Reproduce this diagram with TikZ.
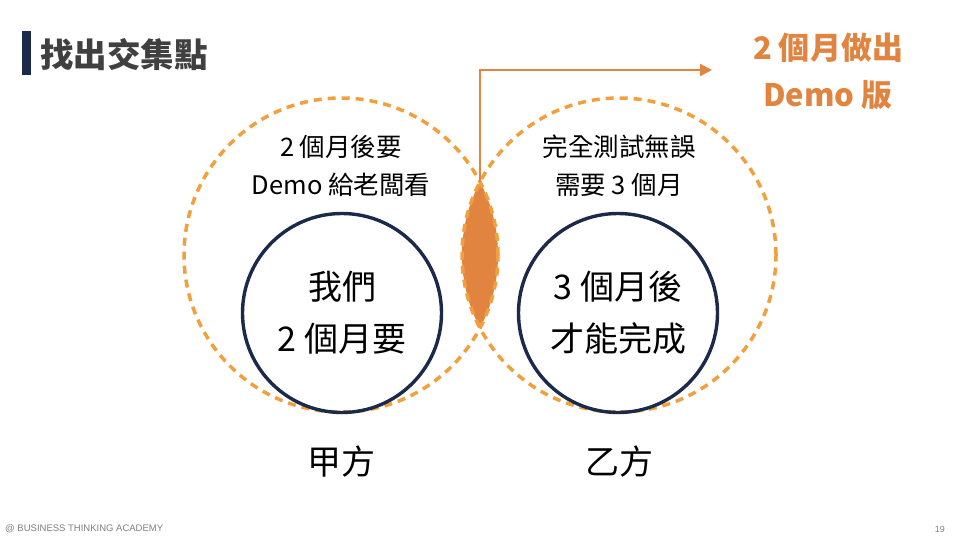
\documentclass[tikz,border=0pt]{standalone}
\usepackage{fontspec}
\setmainfont{Noto Sans CJK TC}
\newfontfamily\footfont{Liberation Sans}
\usetikzlibrary{arrows.meta}
\definecolor{navy}{HTML}{1B2A4A}
\definecolor{ringorange}{HTML}{F2A03D}
\definecolor{lensorange}{HTML}{E0843F}
\definecolor{titlegray}{HTML}{404040}

\begin{document}
\begin{tikzpicture}[x = 1pt, y = -1pt,
		ring/.style = {circle, draw = ringorange, line width = 3.5pt, dash pattern = on 8pt off 6pt, minimum size = 314pt, inner sep = 0pt},
		core/.style = {circle, draw = navy, line width = 3.4pt, minimum size = 199pt, inner sep = 0pt, align = center, font = \fontsize{34}{52}\selectfont},
		note/.style = {align = center, font = \fontsize{25.5}{38}\selectfont},
		side/.style = {font = \fontsize{34}{40}\selectfont},
		pointer/.style = {draw = lensorange, line width = 2.2pt, -{Triangle[length = 12pt, width = 12pt]}}]
	\useasboundingbox[fill = white] (0, 0) rectangle (960, 540);

	% title
	\fill[navy] (22, 31) rectangle (31, 75);
	\node (title) at (40, 55) [anchor = west, inner sep = 0pt, text = titlegray, font = \fontsize{33.5}{40}\selectfont\bfseries] {找出交集點};

	% overlap of the two rings
	\begin{scope}
		\clip (341, 255) circle [radius = 157pt];
		\fill[lensorange] (619, 255) circle [radius = 157pt];
	\end{scope}

	\foreach \name/\x in {jia/341, yi/619} {
		\node (\name) at (\x, 255) [ring] {};
	}

	\node (jiacore) at (342, 313) [core] {我們\\2 個月要};
	\node (yicore) at (618, 313) [core] {3 個月後\\才能完成};

	\node (jianote) at (341, 166) [note] {2 個月後要\\Demo 給老闆看};
	\node (yinote) at (619, 166) [note] {完全測試無誤\\需要 3 個月};

	\node (jialabel) at (341, 462) [side] {甲方};
	\node (yilabel) at (619, 462) [side] {乙方};

	% result
	\coordinate (lenstop) at (480, 182);
	\coordinate (bend) at (480, 70);
	\coordinate (tip) at (712, 70);
	\draw[pointer] (lenstop) -- (bend) -- (tip);
	\node (goal) at (828, 71) [align = center, text = lensorange, font = \fontsize{31}{47}\selectfont\bfseries] {2 個月做出\\Demo 版};

	% footer
	\node (brand) at (5, 529) [anchor = west, inner sep = 0pt, text = gray, font = \footfont\fontsize{9.5}{11}\selectfont] {@ BUSINESS THINKING ACADEMY};
	\node (page) at (945, 529) [anchor = east, inner sep = 0pt, text = gray, font = \footfont\fontsize{9}{11}\selectfont] {19};
\end{tikzpicture}
\end{document}
